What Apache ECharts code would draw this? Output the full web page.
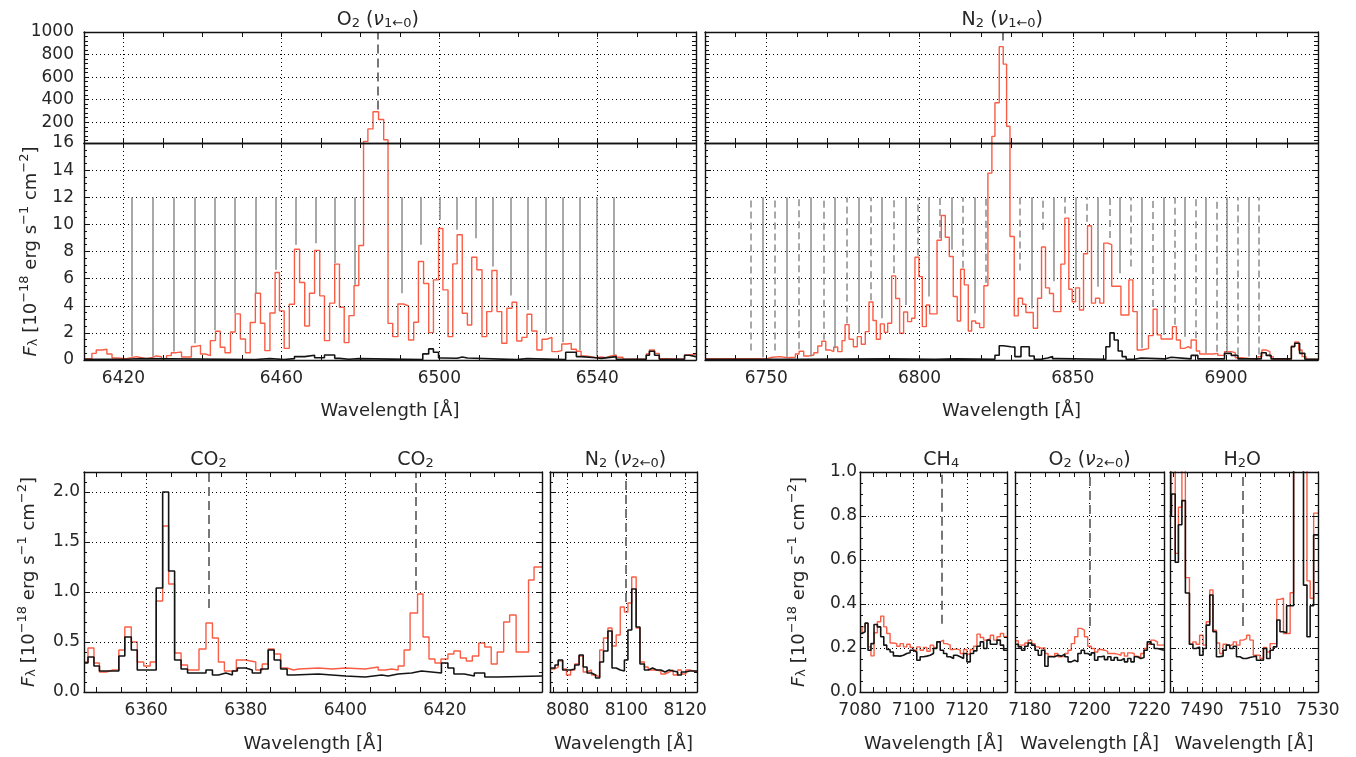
<!DOCTYPE html>
<html><head><meta charset="utf-8">
<script src="https://cdn.jsdelivr.net/npm/echarts@6.0.0/dist/echarts.min.js"></script>
<style>html,body{margin:0;padding:0;background:#fff}#c{width:1356px;height:757px}</style>
</head><body><div id="c"></div>
<script>
const FONT = 'DejaVu Sans', TXT = '#262626', RED = '#f95d45', BLK = '#141414', GRAY = '#8c8c8c';

// ---------- tick labels ----------
const o2TickLabels = [6420, 6460, 6500, 6540];
const n2TickLabels = [6750, 6800, 6850, 6900];
const co2TickLabels = [6360, 6380, 6400, 6420];
const n2v2TickLabels = [8080, 8100, 8120];
const ch4TickLabels = [7080, 7100, 7120];
const o2v2TickLabels = [7180, 7200, 7220];
const h2oTickLabels = [7490, 7510, 7530];
const upperFluxLabels = [200, 400, 600, 800, 1000];
const upperFluxGrid = [200, 400, 600, 800];
const lowerFluxGrid = [2, 4, 6, 8, 10, 12, 14];
const co2FluxGrid = [0.5, 1.0, 1.5, 2.0];
const smallFluxGrid = [0.2, 0.4, 0.6, 0.8];

// ---------- O2 nu(1<-0) panel: bin edges (A) and flux per bin ----------
const o2RedW = [6410.0,6412.0,6413.1,6414.6,6415.8,6417.1,6418.4,6420.7,6422.0,6423.3,
 6424.5,6425.8,6427.1,6428.3,6429.6,6430.9,6432.1,6433.4,6434.7,6435.9,
 6437.2,6438.3,6439.5,6440.7,6442.0,6443.3,6444.5,6445.7,6447.1,6448.3,
 6449.6,6450.9,6452.1,6453.4,6454.7,6455.8,6457.1,6458.4,6459.5,6460.7,
 6462.0,6463.3,6464.6,6465.9,6467.1,6468.4,6469.7,6470.9,6472.2,6473.5,
 6474.7,6475.9,6477.1,6478.4,6479.6,6480.8,6481.9,6483.2,6484.6,6485.9,
 6487.0,6488.2,6489.5,6490.9,6492.2,6493.5,6494.7,6496.0,6497.3,6498.5,
 6499.8,6500.9,6502.2,6503.4,6504.5,6505.8,6507.1,6508.2,6509.5,6510.8,
 6512.0,6513.3,6514.6,6515.8,6517.1,6518.4,6519.6,6520.9,6522.2,6523.4,
 6524.7,6526.0,6527.2,6528.5,6529.8,6531.0,6532.3,6533.4,6534.7,6535.9,
 6537.2,6539.7,6541.0,6542.2,6543.5,6544.8,6546.5,6552.4,6553.2,6554.5,
 6555.7,6557.4,6562.1,6563.3,6565.0];
const o2RedV = [0.10,0.49,0.74,0.79,0.44,0.15,0.10,0.17,0.25,0.17,
 0.10,0.17,0.30,0.25,0.10,0.32,0.54,0.59,0.22,0.22,
 1.00,1.08,0.44,0.32,1.43,2.12,0.94,0.54,2.07,3.40,
 1.55,0.54,2.76,4.92,2.71,0.69,3.47,6.45,3.62,0.86,
 4.11,8.17,5.71,2.51,4.92,8.08,4.73,1.43,4.19,7.07,
 3.89,1.28,3.27,5.49,8.44,30,141,293,224,45,
 2.70,1.72,4.13,3.99,1.48,2.78,7.26,5.64,2.02,5.91,
 9.70,5.17,1.72,7.09,9.23,3.45,2.58,7.58,6.65,1.72,
 3.57,6.60,3.57,1.23,3.82,4.26,1.40,1.67,3.37,2.14,
 0.74,1.53,1.67,0.62,0.69,1.18,1.23,0.79,0.64,0.30,
 0.17,0.22,0.17,0.30,0.37,0.20,0.05,0.44,0.74,0.49,
 0.10,0.05,0.37,0.44];
const o2BlackW = [6410,6420.7,6424.5,6453.4,6457.1,6460.7,6463.3,6465.9,6468.4,6470.9,
 6473.5,6474.7,6477.1,6479.6,6495.8,6497.3,6498.5,6499.8,6500.9,6504.5,
 6505.8,6507.1,6519.6,6522.2,6532.0,6534.7,6535.9,6539.7,6541.0,6544.8,
 6552.4,6553.2,6554.5,6555.7,6562.1,6563.3,6565];
const o2BlackV = [0.05,0.10,0.04,0.10,0.04,0.10,0.25,0.35,0.17,0.37,
 0.12,0.05,0.10,0.03,0.45,0.82,0.57,0.15,0.13,0.22,
 0.15,0.03,0.10,0.03,0.57,0.25,0.17,0.12,0.25,0.05,
 0.35,0.64,0.35,0.05,0.35,0.25];
const o2LineW = [6422.1,6427.4,6432.7,6438.0,6443.2,6448.3,6453.5,6458.5,6463.6,6468.6,6473.5,6478.5,
 6490.4,6495.2,6500.0,6504.5,6509.1,6513.6,6518.0,6522.5,6527.0,6531.3,6535.6,6539.9,6544.1];
const o2LineEnd = [0.25,0.25,0.62,1.23,2.2,3.45,4.92,6.65,8.5,8.6,7.14,5.54,
 4.92,8.5,10.34,9.6,8.98,6.89,4.75,3.69,1.97,1.3,0.74,0.25,0.37];
const o2LineLabels = ['21','15','9','3','3','9','15','21'];
const o2LineLabelW = [6432.7,6448.3,6463.6,6478.5,6495.2,6509.1,6522.5,6535.6];

// ---------- N2 nu(1<-0) panel ----------
const n2RedW = [6730.0,6750.3,6751.9,6754.6,6756.8,6759.5,6760.7,6762.2,6763.9,6765.5,
 6766.8,6768.1,6769.4,6770.7,6772.0,6773.3,6774.7,6775.7,6777.0,6778.4,
 6779.7,6781.0,6782.3,6783.5,6784.8,6785.9,6787.2,6788.5,6789.6,6790.9,
 6792.2,6793.5,6794.8,6796.1,6797.4,6798.5,6799.8,6800.9,6802.2,6803.3,
 6805.7,6807.1,6808.4,6809.7,6811.0,6812.3,6813.4,6814.6,6815.9,6817.0,
 6818.3,6819.6,6821.0,6822.3,6823.6,6824.6,6826.0,6827.3,6828.4,6829.5,
 6830.9,6832.2,6833.6,6834.7,6835.8,6837.1,6838.5,6839.8,6841.1,6842.4,
 6843.7,6845.0,6846.1,6847.4,6848.7,6849.8,6850.9,6852.2,6853.5,6854.8,
 6856.1,6857.4,6858.8,6860.1,6861.4,6862.7,6864.2,6865.7,6867.0,6868.3,
 6869.6,6871.0,6872.3,6874.7,6876.2,6877.5,6878.8,6879.9,6881.2,6882.5,
 6883.8,6885.1,6886.4,6887.7,6888.6,6890.3,6891.4,6895.7,6897.3,6899.5,
 6901.7,6903.0,6904.9,6910.4,6911.7,6913.0,6914.3,6915.4,6921.3,6922.4,
 6923.7,6924.8,6926.1,6930.0];
const n2RedV = [0.10,0.20,0.25,0.17,0.20,0.44,0.64,0.30,0.37,0.54,
 1.03,1.38,0.74,0.62,0.96,0.62,1.43,2.61,1.53,0.98,
 1.72,1.16,2.09,4.28,2.91,1.53,2.66,2.04,2.71,6.20,
 4.53,1.97,3.54,2.83,3.08,7.58,6.15,2.46,4.06,3.40,
 8.83,10.65,9.05,7.63,4.68,2.88,6.69,5.54,2.14,2.88,
 2.71,2.39,5.47,13.78,75,373,870,715,164,9.11,
 3.25,4.55,4.11,3.50,3.50,2.34,4.55,8.33,5.32,4.90,
 3.57,3.57,7.07,10.46,5.22,4.30,5.32,3.69,7.83,9.90,
 4.19,4.55,4.19,8.62,8.50,5.44,5.44,3.32,3.32,5.91,
 3.57,0.74,0.84,1.80,3.74,1.85,1.55,1.55,1.55,2.46,
 1.48,0.86,0.98,0.86,1.48,0.66,0.44,0.49,0.34,0.62,
 0.54,0.17,0.05,0.25,0.74,0.62,0.25,0.05,1.03,1.33,
 0.74,0.25,0.05];
const n2BlackW = [6730,6760,6790,6805,6812,6824.6,6826.0,6827.3,6829.8,6831.1,
 6833.1,6835.8,6837.4,6839.6,6841.8,6843.4,6845.0,6860.8,6862.1,6863.5,
 6864.8,6866.1,6867.4,6870.0,6872.3,6879.9,6882.1,6888.6,6890.8,6899.5,
 6901.7,6903.9,6911.5,6913.1,6914.7,6921.3,6922.4,6924.0,6925.7,6930];
const n2BlackV = [0.05,0.08,0.05,0.08,0.05,0.35,1.05,0.98,0.95,0.25,
 0.98,0.30,0.05,0.15,0.25,0.10,0.05,0.98,2.00,1.48,
 0.66,0.25,0.05,0.15,0.08,0.20,0.08,0.34,0.08,0.49,
 0.34,0.08,0.54,0.34,0.08,0.98,1.23,0.49,0.05];
const n2SolidW = [6749.0,6756.8,6764.6,6772.4,6780.1,6787.8,6795.4,6803.1,6810.4,6817.9,
 6836.5,6843.7,6851.0,6858.3,6865.4,6872.6,6879.7,6886.6,6893.4,6900.3,6907.3];
const n2SolidEnd = [0.2,0.2,0.25,0.86,1.97,3.08,4.06,4.68,8.13,3.45,
 3.8,5.8,5.9,5.4,6.4,0.86,1.85,1.72,0.5,0.6,0.25];
const n2DashW = [6745.0,6752.9,6760.7,6768.6,6776.2,6784.1,6791.6,6799.3,6806.7,6814.2,6821.7,
 6832.7,6840.1,6847.4,6854.6,6861.9,6869.0,6876.2,6883.1,6890.1,6897.0,6903.9,6910.7];
const n2DashEnd = [0.7,0.7,0.8,1.5,2.7,4.4,6.4,7.7,9.0,6.8,5.7,
 6.6,9.6,10.8,10.2,9.0,6.9,3.9,2.6,1.6,0.6,0.4,0.4];
const n2LineLabels = ['20','16','12','8','4','0','4','8','12','16','20'];
const n2LineLabelW = [6752.9,6768.6,6784.1,6799.3,6814.2,6832.7,6847.4,6861.9,6876.2,6890.1,6903.9];

// ---------- CO2 panel ----------
const co2RedW = [6347.5,6348.3,6349.5,6350.6,6352.0,6353.3,6354.5,6355.7,6357.0,6358.2,
 6359.5,6360.8,6362.0,6363.3,6364.5,6365.7,6367.0,6368.3,6370.6,6372.0,
 6373.3,6374.5,6375.7,6378.1,6380.0,6382.0,6383.3,6384.5,6385.7,6387.0,
 6388.3,6389.6,6390.6,6394.6,6397.3,6400.0,6404.0,6406.6,6408.0,6409.3,
 6410.6,6411.8,6413.0,6414.5,6415.6,6416.8,6418.0,6419.2,6420.6,6421.8,
 6423.1,6424.3,6425.5,6426.8,6428.0,6429.3,6430.5,6431.8,6433.0,6434.3,
 6435.6,6436.8,6437.9,6439.5];
const co2RedV = [0.30,0.44,0.29,0.20,0.22,0.22,0.42,0.65,0.50,0.30,
 0.26,0.30,0.91,1.66,1.08,0.39,0.27,0.22,0.43,0.69,
 0.54,0.30,0.21,0.32,0.30,0.22,0.28,0.43,0.38,0.24,
 0.22,0.23,0.24,0.23,0.24,0.23,0.25,0.22,0.23,0.22,
 0.26,0.42,0.79,0.98,0.55,0.33,0.29,0.33,0.38,0.41,
 0.34,0.31,0.36,0.49,0.45,0.28,0.40,0.70,0.77,0.40,
 0.40,1.12,1.25];
const co2BlackW = [6347.5,6348.3,6349.5,6350.6,6354.5,6355.7,6357.0,6358.2,6362.0,6363.3,
 6364.5,6365.7,6367.0,6368.3,6372.0,6373.3,6374.5,6376.0,6377.3,6378.3,
 6380.0,6381.3,6383.0,6384.5,6385.7,6387.0,6388.3,6389.6,6394.6,6400.0,
 6404.0,6407.3,6408.6,6410.6,6413.3,6415.3,6419.3,6420.6,6421.8,6423.9,
 6425.9,6428.0,6430.6,6439.5];
const co2BlackV = [0.29,0.35,0.26,0.21,0.36,0.55,0.42,0.22,1.04,2.00,
 1.21,0.32,0.23,0.19,0.22,0.17,0.19,0.17,0.21,0.24,
 0.22,0.19,0.23,0.42,0.32,0.23,0.17,0.18,0.16,0.15,
 0.17,0.16,0.18,0.19,0.21,0.19,0.29,0.24,0.18,0.16,
 0.19,0.15,0.16];

// ---------- N2 nu(2<-0) panel ----------
const n2v2W = [8074.0,8075.7,8076.8,8078.3,8079.6,8081.0,8082.4,8083.9,8085.3,8086.6,
 8088.1,8089.5,8090.9,8092.2,8093.7,8095.1,8096.5,8097.9,8099.3,8100.5,
 8101.8,8103.3,8104.6,8106.1,8107.4,8108.9,8110.3,8111.7,8113.1,8114.5,
 8115.9,8117.4,8118.7,8120.2,8121.5,8124.0];
const n2v2RedV = [0.23,0.25,0.31,0.23,0.17,0.22,0.28,0.36,0.20,0.22,
 0.17,0.15,0.42,0.54,0.64,0.46,0.57,0.85,0.80,0.89,
 1.15,0.64,0.30,0.25,0.22,0.22,0.21,0.18,0.20,0.22,
 0.17,0.22,0.18,0.22,0.20];
const n2v2BlackV = [0.24,0.27,0.32,0.22,0.22,0.23,0.27,0.37,0.25,0.19,
 0.17,0.14,0.30,0.41,0.61,0.24,0.22,0.21,0.32,0.62,
 1.03,0.65,0.28,0.22,0.24,0.22,0.22,0.20,0.22,0.21,
 0.20,0.17,0.20,0.21,0.21];

// ---------- CH4 panel ----------
const ch4W = [7080.0,7080.75,7081.9,7083.0,7084.1,7085.25,7086.5,7087.75,7088.9,7090.0,
 7091.25,7092.5,7093.75,7095.0,7096.25,7097.5,7098.75,7100.0,7101.25,7102.5,
 7103.75,7105.0,7106.25,7107.5,7108.75,7110.0,7111.25,7112.5,7113.75,7115.0,
 7116.25,7117.5,7118.75,7120.0,7121.25,7122.5,7123.75,7125.0,7126.25,7127.5,
 7128.75,7130.0,7131.25,7132.5,7133.75,7135.0];
const ch4RedV = [0.269,0.296,0.312,0.205,0.164,0.269,0.319,0.345,0.296,0.266,
 0.223,0.220,0.208,0.220,0.205,0.217,0.202,0.190,0.205,0.190,
 0.202,0.185,0.213,0.202,0.228,0.236,0.220,0.213,0.193,0.196,
 0.190,0.175,0.193,0.172,0.193,0.208,0.263,0.248,0.236,0.243,
 0.258,0.236,0.251,0.266,0.251];
const ch4BlackV = [0.266,0.274,0.313,0.190,0.220,0.307,0.296,0.251,0.213,0.193,
 0.182,0.164,0.163,0.167,0.175,0.178,0.190,0.182,0.144,0.160,
 0.163,0.167,0.175,0.198,0.228,0.190,0.175,0.160,0.152,0.167,
 0.160,0.152,0.175,0.137,0.175,0.187,0.208,0.228,0.198,0.236,
 0.217,0.217,0.236,0.213,0.190];

// ---------- O2 nu(2<-0) panel ----------
const o2v2W = [7175.0,7176.1,7177.2,7178.3,7179.4,7180.6,7181.7,7182.8,7183.9,7185.0,
 7186.1,7187.2,7188.3,7189.4,7190.6,7191.7,7192.8,7193.9,7195.0,7196.1,
 7197.2,7198.3,7199.4,7200.6,7201.7,7202.8,7203.9,7205.0,7206.1,7207.2,
 7208.3,7209.4,7210.6,7211.7,7212.8,7213.9,7215.0,7216.1,7217.2,7218.3,
 7219.4,7220.6,7221.7,7222.8,7225.0];
const o2v2RedV = [0.233,0.213,0.213,0.223,0.236,0.220,0.205,0.198,0.202,0.175,
 0.163,0.160,0.175,0.160,0.163,0.175,0.190,0.220,0.251,0.289,
 0.281,0.251,0.208,0.198,0.182,0.193,0.190,0.185,0.175,0.175,
 0.172,0.167,0.178,0.163,0.178,0.175,0.163,0.157,0.175,0.198,
 0.217,0.236,0.228,0.213];
const o2v2BlackV = [0.217,0.205,0.190,0.208,0.223,0.213,0.190,0.167,0.190,0.117,
 0.160,0.160,0.167,0.163,0.172,0.160,0.137,0.144,0.137,0.175,
 0.190,0.175,0.167,0.178,0.144,0.160,0.163,0.147,0.160,0.144,
 0.157,0.144,0.152,0.137,0.152,0.137,0.160,0.152,0.157,0.190,
 0.228,0.217,0.198,0.190];

// ---------- H2O panel ----------
const h2oW = [7478.8,7479.5,7480.8,7481.9,7483.1,7484.3,7485.7,7486.9,7488.0,7489.2,
 7490.4,7491.5,7492.7,7493.8,7495.0,7496.1,7497.3,7498.4,7499.6,7500.8,
 7501.9,7503.1,7504.2,7505.4,7506.5,7507.7,7508.8,7510.0,7511.2,7512.3,
 7513.5,7514.6,7515.8,7516.9,7518.1,7519.2,7520.4,7521.6,7522.7,7525.0,
 7526.2,7527.3,7528.5,7530.0];
const h2oRedV = [0.82,1.6,0.63,0.84,1.6,0.52,0.217,0.228,0.217,0.258,
 0.213,0.319,0.464,0.281,0.223,0.175,0.217,0.210,0.217,0.228,
 0.213,0.236,0.243,0.258,0.236,0.167,0.167,0.152,0.202,0.182,
 0.220,0.220,0.421,0.426,0.266,0.266,0.451,1.6,1.6,1.6,
 0.505,0.426,0.813];
const h2oBlackV = [0.80,0.90,0.59,0.76,0.87,0.45,0.217,0.198,0.205,0.167,
 0.198,0.304,0.441,0.274,0.160,0.163,0.190,0.213,0.198,0.208,
 0.160,0.152,0.152,0.157,0.160,0.163,0.144,0.144,0.198,0.152,
 0.190,0.205,0.327,0.274,0.269,0.392,0.392,1.6,1.6,0.486,
 0.251,0.392,0.714];

// ---------- band-head markers (wavelength, lower end of dashed line) ----------
const o2v1Head = 6484.4, o2v1HeadEnd = 313;
const n2v1Head = 6827.0, n2v1HeadEnd = 925;
const co2HeadA = 6372.5, co2HeadAEnd = 0.84;
const co2HeadB = 6414.1, co2HeadBEnd = 1.02;
const n2v2Head = 8099.7, n2v2HeadEnd = 0.9;
const ch4Head = 7110.4, ch4HeadEnd = 0.31;
const o2v2Head = 7200.0, o2v2HeadEnd = 0.3;
const h2oHead = 7503.9, h2oHeadEnd = 0.3;

// ================= build =================
function every(a, b, s) { const r = []; for (let k = Math.ceil(a / s - 1e-9); k * s <= b + 1e-9; k++) r.push(+(k * s).toFixed(4)); return r; }
function stepData(W, V) { return W.map((w, i) => [w, V[Math.min(i, V.length - 1)]]); }

const RICH = {
  t: {fontFamily: FONT, fontSize: 19, color: TXT, lineHeight: 22, verticalAlign: 'bottom'},
  i: {fontFamily: FONT, fontSize: 19, color: TXT, fontStyle: 'italic', lineHeight: 22, verticalAlign: 'bottom'},
  s: {fontFamily: FONT, fontSize: 13, color: TXT, lineHeight: 13, verticalAlign: 'bottom'},
  p: {fontFamily: FONT, fontSize: 13, color: TXT, lineHeight: 11, verticalAlign: 'top'}
};
const RICHY = {
  t: {fontFamily: FONT, fontSize: 18, color: TXT, lineHeight: 22, verticalAlign: 'bottom'},
  i: {fontFamily: FONT, fontSize: 18, color: TXT, fontStyle: 'italic', lineHeight: 22, verticalAlign: 'bottom'},
  s: {fontFamily: FONT, fontSize: 13, color: TXT, lineHeight: 13, verticalAlign: 'bottom'},
  p: {fontFamily: FONT, fontSize: 13, color: TXT, lineHeight: 11, verticalAlign: 'top'}
};
const YNAME = '{i|F}{s|λ}{t| [10}{p|−18}{t| erg s}{p|−1}{t| cm}{p|−2}{t|]}';

const grids = [
  {left: 84, top: 32, width: 612, height: 111},
  {left: 84, top: 143, width: 612, height: 217},
  {left: 705, top: 32, width: 613, height: 111},
  {left: 705, top: 143, width: 613, height: 217},
  {left: 84, top: 472, width: 458, height: 220},
  {left: 550, top: 472, width: 147, height: 220},
  {left: 860, top: 472, width: 147, height: 220},
  {left: 1015, top: 472, width: 149, height: 220},
  {left: 1170, top: 472, width: 148, height: 220}
];
const f1 = v => v.toFixed(1), fi = v => String(v);
const specs = [
  {x: [6410, 6565], xt: 10, xl: null, xg: o2TickLabels, y: [16, 1000], yt: every(40, 1000, 40), ylc: upperFluxLabels, yl: true, yf: fi, yg: upperFluxGrid, ym: 10},
  {x: [6410, 6565], xt: 10, xl: o2TickLabels, xg: o2TickLabels, xn: 42, y: [0, 16], yi: 2, ymin: 4, yl: true, yf: fi, yg: lowerFluxGrid, yn: 44, ym: 10},
  {x: [6730, 6930], xt: 10, xl: null, xg: n2TickLabels, y: [16, 1000], yt: every(40, 1000, 40), yl: false, yg: upperFluxGrid},
  {x: [6730, 6930], xt: 10, xl: n2TickLabels, xg: n2TickLabels, xn: 42, y: [0, 16], yi: 2, ymin: 4, yl: false, yg: lowerFluxGrid},
  {x: [6347.5, 6439.5], xt: 5, xl: co2TickLabels, xg: co2TickLabels, xn: 43, y: [0, 2.2], yi: 0.5, ymin: 5, yl: true, yf: f1, yg: co2FluxGrid, yn: 46, ym: 4, noMax: true},
  {x: [8074, 8124], xt: 5, xl: n2v2TickLabels, xg: n2v2TickLabels, xn: 43, y: [0, 2.2], yi: 0.5, ymin: 5, yl: false, yg: co2FluxGrid},
  {x: [7080, 7135], xt: 5, xl: ch4TickLabels, xg: [7100, 7120], xn: 43, y: [0, 1], yi: 0.2, ymin: 4, yl: true, yf: f1, yg: smallFluxGrid, yn: 52, ym: 3},
  {x: [7175, 7225], xt: 5, xl: o2v2TickLabels, xg: o2v2TickLabels, xn: 43, y: [0, 1], yi: 0.2, ymin: 4, yl: false, yg: smallFluxGrid},
  {x: [7479, 7530], xt: 5, xl: h2oTickLabels, xg: [7490, 7510], xn: 43, y: [0, 1], yi: 0.2, ymin: 4, yl: false, yg: smallFluxGrid}
];

const lblStyle = {fontFamily: FONT, fontSize: 17, color: TXT};
const nameStyle = {fontFamily: FONT, fontSize: 18, color: TXT};
const axLine = {show: true, onZero: false, lineStyle: {color: '#111', width: 1.4}};
const tickStyle = {color: '#111', width: 1};
const xAxis = [], yAxis = [];
specs.forEach((p, g) => {
  const xt = every(p.x[0], p.x[1], p.xt);
  const xBase = {type: 'value', gridIndex: g, min: p.x[0], max: p.x[1], z: 6, splitLine: {show: false},
    axisLine: axLine, axisTick: {show: true, inside: true, length: 5, customValues: xt, lineStyle: tickStyle}};
  xAxis.push(Object.assign({}, xBase, {position: 'bottom',
    axisLabel: p.xl ? Object.assign({show: true, customValues: p.xl, formatter: fi, margin: 10}, lblStyle) : {show: false},
    name: p.xn ? 'Wavelength [Å]' : '', nameLocation: 'middle', nameGap: p.xn || 0, nameTextStyle: nameStyle}));
  xAxis.push(Object.assign({}, xBase, {position: 'top', axisLabel: {show: false}}));
  const yBase = {type: 'value', gridIndex: g, min: p.y[0], max: p.y[1], z: 6, splitLine: {show: false}, axisLine: axLine};
  if (p.yi) {
    yBase.interval = p.yi;
    yBase.axisTick = {show: true, inside: true, length: 6, lineStyle: tickStyle};
    yBase.minorTick = {show: true, splitNumber: p.ymin, length: 3, lineStyle: tickStyle};
  } else {
    yBase.axisTick = {show: true, inside: true, length: 4, customValues: p.yt, lineStyle: tickStyle};
  }
  const yl = p.yl ? Object.assign({show: true, formatter: p.yf, margin: p.ym, showMaxLabel: !p.noMax}, lblStyle) : {show: false};
  if (p.yl && p.ylc) yl.customValues = p.ylc;
  yAxis.push(Object.assign({}, yBase, {position: 'left', axisLabel: yl,
    name: p.yn ? YNAME : '', nameLocation: 'middle', nameRotate: 90, nameGap: p.yn || 0,
    nameTextStyle: {rich: RICHY, fontFamily: FONT, fontSize: 18, color: TXT}}));
  yAxis.push(Object.assign({}, yBase, {position: 'right', axisLabel: {show: false}}));
});

const series = [];
function ax(g) { return {xAxisIndex: 2 * g, yAxisIndex: 2 * g}; }
function addGridLines(g) {
  const p = specs[g];
  series.push(Object.assign({type: 'line', data: [], z: 1, silent: true, clip: false,
    markLine: {silent: true, symbol: 'none', animation: false, label: {show: false},
      lineStyle: {color: '#000', width: 1, type: [1, 3], opacity: 1},
      data: p.xg.map(v => ({xAxis: v})).concat(p.yg.map(v => ({yAxis: v})))}}, ax(g)));
}
function addMarkers(g, ws, ends, top, dashed) {
  series.push(Object.assign({type: 'line', data: [], z: 2, silent: true, clip: false,
    markLine: {silent: true, symbol: 'none', animation: false, label: {show: false},
      lineStyle: {color: GRAY, width: 1.5, type: dashed ? [7, 4] : 'solid', opacity: 1},
      data: ws.map((w, i) => [{coord: [w, ends[i]]}, {coord: [w, top]}])}}, ax(g)));
}
function addHead(g, w, low, top, text) {
  series.push(Object.assign({type: 'line', data: [], z: 2, silent: true, clip: false,
    markLine: {silent: true, symbol: 'none', animation: false,
      lineStyle: {color: '#777', width: 2, type: [9, 5], opacity: 1},
      label: {show: true, position: 'end', distance: 2, formatter: () => text, rich: RICH},
      data: [[{coord: [w, low]}, {coord: [w, top]}]]}}, ax(g)));
}
function addLabels(g, ws, labels, y) {
  series.push(Object.assign({type: 'scatter', symbolSize: 0, z: 5, silent: true, itemStyle: {opacity: 0},
    data: ws.map((w, i) => [w, y, labels[i]]),
    label: {show: true, position: 'inside', formatter: q => q.data[2], fontFamily: FONT, fontSize: 18, color: TXT}}, ax(g)));
}
function addSpectrum(g, W, V, color, width, z) {
  series.push(Object.assign({type: 'line', data: stepData(W, V), step: 'end', symbol: 'none', showSymbol: false,
    lineStyle: {color: color, width: width}, z: z, clip: true, silent: true}, ax(g)));
}

for (let g = 0; g < 9; g++) addGridLines(g);
// top-left
addHead(0, o2v1Head, o2v1HeadEnd, 1000, '{t|O}{s|2}{t| (}{i|ν}{s|1←0}{t|)}');
addSpectrum(0, o2RedW, o2RedV, RED, 1.4, 3);
addMarkers(1, o2LineW, o2LineEnd, 12, false);
addLabels(1, o2LineLabelW, o2LineLabels, 13.0);
addSpectrum(1, o2RedW, o2RedV, RED, 1.4, 3);
addSpectrum(1, o2BlackW, o2BlackV, BLK, 1.6, 4);
// top-right
addHead(2, n2v1Head, n2v1HeadEnd, 1000, '{t|N}{s|2}{t| (}{i|ν}{s|1←0}{t|)}');
addSpectrum(2, n2RedW, n2RedV, RED, 1.4, 3);
addMarkers(3, n2SolidW, n2SolidEnd, 12, false);
addMarkers(3, n2DashW, n2DashEnd, 12, true);
addLabels(3, n2LineLabelW, n2LineLabels, 13.0);
addSpectrum(3, n2RedW, n2RedV, RED, 1.4, 3);
addSpectrum(3, n2BlackW, n2BlackV, BLK, 1.6, 4);
// CO2
addHead(4, co2HeadA, co2HeadAEnd, 2.2, '{t|CO}{s|2}');
addHead(4, co2HeadB, co2HeadBEnd, 2.2, '{t|CO}{s|2}');
addSpectrum(4, co2RedW, co2RedV, RED, 1.4, 3);
addSpectrum(4, co2BlackW, co2BlackV, BLK, 1.6, 4);
// N2 nu2
addHead(5, n2v2Head, n2v2HeadEnd, 2.2, '{t|N}{s|2}{t| (}{i|ν}{s|2←0}{t|)}');
addSpectrum(5, n2v2W, n2v2RedV, RED, 1.4, 3);
addSpectrum(5, n2v2W, n2v2BlackV, BLK, 1.6, 4);
// CH4
addHead(6, ch4Head, ch4HeadEnd, 1, '{t|CH}{s|4}');
addSpectrum(6, ch4W, ch4RedV, RED, 1.4, 3);
addSpectrum(6, ch4W, ch4BlackV, BLK, 1.6, 4);
// O2 nu2
addHead(7, o2v2Head, o2v2HeadEnd, 1, '{t|O}{s|2}{t| (}{i|ν}{s|2←0}{t|)}');
addSpectrum(7, o2v2W, o2v2RedV, RED, 1.4, 3);
addSpectrum(7, o2v2W, o2v2BlackV, BLK, 1.6, 4);
// H2O
addHead(8, h2oHead, h2oHeadEnd, 1, '{t|H}{s|2}{t|O}');
addSpectrum(8, h2oW, h2oRedV, RED, 1.4, 3);
addSpectrum(8, h2oW, h2oBlackV, BLK, 1.6, 4);

const chart = echarts.init(document.getElementById('c'), null, {renderer: 'canvas'});
chart.setOption({
  animation: false,
  backgroundColor: '#fff',
  textStyle: {fontFamily: FONT},
  grid: grids,
  xAxis: xAxis,
  yAxis: yAxis,
  series: series
});
</script></body></html>
